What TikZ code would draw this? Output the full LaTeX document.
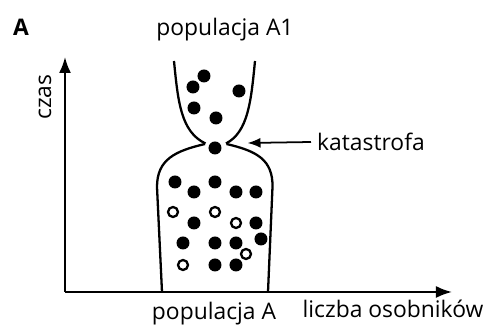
\documentclass[tikz,border=0pt]{standalone}
\usepackage{fontspec}
\setmainfont{Open Sans}
\usetikzlibrary{arrows.meta}
\tikzset{
  every node/.style={font=\fontsize{13}{15}\selectfont},
  full/.style={fill=black},
  hollow/.style={draw=black,fill=white,line width=1.3pt},
  axis/.style={line width=1.2pt,-{Latex[length=3.2mm,width=2.4mm]}},
}
\begin{document}
\begin{tikzpicture}
\useasboundingbox (0,0) rectangle (9.8,6.64);
% axes
\coordinate (o) at (1.3,0.8);
\coordinate (t) at (1.3,5.5);
\coordinate (n) at (9.04,0.8);
\draw[axis] (o) -- (t);
\draw[axis] (o) -- (n);
\node[rotate=90] (czas) at (0.9,4.7) {czas};
\node (liczba) at (7.86,0.47) {liczba osobników};
\node[font=\fontsize{13}{15}\selectfont\bfseries] (lit) at (0.42,6.09) {A};
% the two vessels
\draw[line width=1.3pt] (3.48,5.42) .. controls (3.56,4.6) and (3.62,4.0) .. (4.11,3.77);
\draw[line width=1.3pt] (5.1,5.42) .. controls (5.02,4.6) and (4.96,4.0) .. (4.52,3.77);
\draw[line width=1.3pt] (4.1,3.76) .. controls (3.5,3.62) and (3.14,3.45) .. (3.14,2.9) -- (3.24,0.8);
\draw[line width=1.3pt] (4.53,3.76) .. controls (5.13,3.62) and (5.46,3.45) .. (5.45,2.9) -- (5.36,0.8);
% individuals
\foreach \x/\y in {4.08/5.12,3.86/4.9,4.78/4.82,3.88/4.48,4.32/4.28,4.3/3.68,
  3.5/3.0,3.88/2.8,4.3/3.0,4.72/2.8,5.12/2.8,3.88/2.18,5.12/2.18,5.22/1.86,
  3.66/1.78,4.3/1.78,4.72/1.78,4.3/1.34,4.72/1.34}
  \fill[full] (\x,\y) circle (0.13);
\foreach \x/\y in {3.46/2.4,4.3/2.4,4.72/2.18,4.92/1.56,3.66/1.34}
  \draw[hollow] (\x,\y) circle (0.1);
\node (popA1) at (4.5,6.04) {populacja A1};
\node (popA) at (4.28,0.36) {populacja A};
\node[anchor=west] (kat) at (6.22,3.8) {katastrofa};
\coordinate (neck) at (4.95,3.78);
\draw[line width=1pt,-{Latex[length=2.6mm,width=2mm]}] (kat.west) -- (neck);
\end{tikzpicture}
\end{document}
